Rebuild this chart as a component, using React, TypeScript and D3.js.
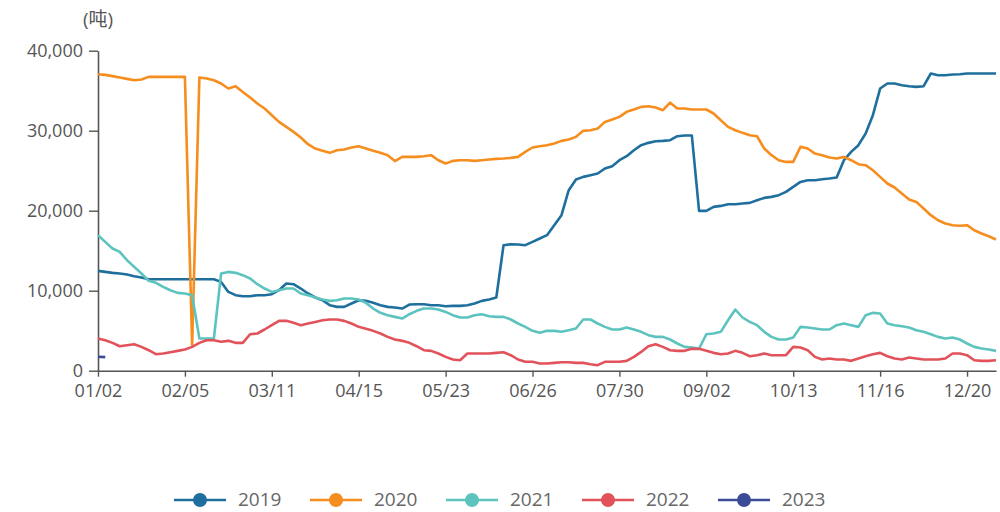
import React, { useEffect, useRef } from 'react';
import * as d3 from 'd3';

const tickLabels = ['01/02', '02/05', '03/11', '04/15', '05/23', '06/26', '07/30', '09/02', '10/13', '11/16', '12/20'];
const tickEvery = 12;
const yTicks = [0, 10000, 20000, 30000, 40000];
const years = ['2019', '2020', '2021', '2022', '2023'];
const colors = ['#1f6f9e', '#f68e1f', '#5cc3be', '#e2525b', '#3c4b98'];
const unitLabel = '(吨)';

const s2019 = [
  12480, 12350, 12230, 12150, 12020, 11810, 11650, 11440, 11440, 11440,
  11440, 11440, 11440, 11440, 11440, 11440, 11440, 11100, 9850, 9440,
  9310, 9310, 9440, 9440, 9560, 10060, 10900, 10810, 10270, 9650,
  9150, 8810, 8190, 7980, 7980, 8400, 8810, 8730, 8480, 8190,
  7980, 7900, 7770, 8270, 8310, 8310, 8190, 8190, 8060, 8100,
  8100, 8190, 8400, 8730, 8900, 9150, 15690, 15810, 15770, 15690,
  16100, 16520, 16940, 18190, 19440, 22560, 23900, 24230, 24440, 24650,
  25270, 25560, 26310, 26810, 27560, 28190, 28480, 28690, 28730, 28810,
  29310, 29400, 29400, 19980, 19980, 20480, 20600, 20810, 20810, 20900,
  20980, 21310, 21600, 21730, 21940, 22350, 22980, 23600, 23810, 23810,
  23940, 24020, 24150, 26310, 27350, 28190, 29650, 31940, 35270, 35900,
  35900, 35690, 35560, 35480, 35560, 37150, 36940, 36940, 37020, 37060,
  37150, 37150, 37150, 37150, 37150,
];

const s2020 = [
  37060, 36980, 36820, 36650, 36480, 36300, 36400, 36730, 36730, 36730,
  36730, 36730, 36730, 3200, 36650, 36520, 36300, 35900, 35280, 35560,
  34850, 34150, 33400, 32770, 31940, 31100, 30480, 29850, 29150, 28310,
  27770, 27480, 27230, 27560, 27650, 27900, 28060, 27770, 27480, 27230,
  26940, 26200, 26730, 26730, 26730, 26810, 26940, 26310, 25900, 26230,
  26310, 26310, 26230, 26310, 26400, 26480, 26520, 26600, 26730, 27350,
  27900, 28060, 28190, 28400, 28730, 28900, 29230, 29980, 30060, 30270,
  31100, 31400, 31730, 32360, 32650, 32980, 33060, 32900, 32560, 33500,
  32770, 32770, 32650, 32650, 32650, 32150, 31310, 30480, 30060, 29730,
  29440, 29310, 27770, 26940, 26310, 26100, 26100, 27980, 27770, 27140,
  26940, 26640, 26520, 26730, 26310, 25810, 25690, 25060, 24230, 23400,
  22900, 22150, 21400, 21100, 20270, 19440, 18810, 18400, 18190, 18110,
  18190, 17560, 17150, 16810, 16400,
];

const s2021 = [
  16930, 16100, 15270, 14850, 13810, 12980, 12150, 11230, 10980, 10480,
  10060, 9730, 9650, 9440, 4020, 4020, 4020, 12150, 12350, 12230,
  11940, 11520, 10810, 10270, 9850, 10060, 10270, 10270, 9650, 9440,
  9150, 8900, 8730, 8810, 9020, 9020, 8900, 8480, 7770, 7230,
  6940, 6730, 6520, 7060, 7480, 7770, 7770, 7650, 7350, 6940,
  6650, 6650, 6940, 7060, 6810, 6730, 6730, 6400, 5900, 5480,
  4980, 4730, 4980, 4980, 4860, 5060, 5270, 6400, 6400, 5900,
  5480, 5150, 5150, 5400, 5150, 4860, 4440, 4230, 4230, 3900,
  3400, 2980, 2900, 2770, 4560, 4650, 4860, 6310, 7650, 6650,
  6100, 5690, 4860, 4230, 3900, 3900, 4150, 5480, 5400, 5270,
  5150, 5150, 5690, 5900, 5690, 5480, 6940, 7230, 7150, 5900,
  5690, 5560, 5400, 5060, 4860, 4560, 4230, 4020, 4150, 3900,
  3400, 2980, 2770, 2650, 2480,
];

const s2022 = [
  4020, 3810, 3480, 3060, 3190, 3310, 2980, 2560, 2060, 2150,
  2310, 2480, 2650, 2980, 3480, 3810, 3810, 3610, 3730, 3480,
  3480, 4560, 4650, 5150, 5690, 6230, 6230, 5980, 5690, 5900,
  6100, 6310, 6400, 6400, 6230, 5900, 5480, 5230, 4980, 4650,
  4230, 3900, 3730, 3480, 3060, 2560, 2480, 2150, 1730, 1400,
  1310, 2150, 2150, 2150, 2150, 2230, 2310, 1940, 1400, 1110,
  1110, 900, 900, 980, 1060, 1060, 980, 980, 810, 690,
  1110, 1110, 1110, 1230, 1730, 2350, 3060, 3310, 2980, 2560,
  2480, 2480, 2730, 2730, 2480, 2230, 2060, 2150, 2480, 2230,
  1810, 1940, 2150, 1940, 1940, 1940, 2980, 2900, 2560, 1730,
  1400, 1520, 1400, 1400, 1230, 1520, 1810, 2060, 2230, 1810,
  1520, 1400, 1650, 1520, 1400, 1400, 1400, 1520, 2150, 2150,
  1940, 1310, 1230, 1230, 1310,
];

const s2023 = [1750, 1700];

const seriesList = [s2019, s2020, s2021, s2022, s2023];

export default function App() {
  const ref = useRef<SVGSVGElement>(null);

  useEffect(() => {
    const svg = d3.select(ref.current);
    svg.selectAll('*').remove();

    const n = s2019.length;
    const x = d3.scaleLinear().domain([0, n - 1]).range([98, 996]);
    const y = d3.scaleLinear().domain([0, 40000]).range([370.7, 50.7]);
    const font = '"Open Sans", sans-serif';

    // y axis
    const yAxis = d3.axisLeft(y)
      .tickValues(yTicks)
      .tickSize(9)
      .tickSizeOuter(0)
      .tickPadding(6)
      .tickFormat(d3.format(','));
    const gy = svg.append('g').attr('transform', `translate(${x(0)},0)`).call(yAxis as any);
    gy.selectAll('path').attr('stroke', '#555').attr('stroke-width', 1.6);
    gy.selectAll('line').attr('stroke', '#555').attr('stroke-width', 1.4);
    gy.selectAll('text').attr('fill', '#555').attr('font-size', 18).attr('font-family', font);

    // x axis
    const tickIdx = tickLabels.map((_, i) => i * tickEvery);
    const xAxis = d3.axisBottom(x)
      .tickValues(tickIdx)
      .tickSize(6)
      .tickSizeOuter(0)
      .tickPadding(8)
      .tickFormat((_d, i) => tickLabels[i]);
    const gx = svg.append('g').attr('transform', `translate(0,${y(0)})`).call(xAxis as any);
    gx.selectAll('path').attr('stroke', '#555').attr('stroke-width', 1.6);
    gx.selectAll('line').attr('stroke', '#555').attr('stroke-width', 1.4);
    gx.selectAll('text').attr('fill', '#555').attr('font-size', 18).attr('font-family', font);

    // unit label
    svg.append('text')
      .attr('x', x(0))
      .attr('y', 26)
      .attr('text-anchor', 'middle')
      .attr('font-size', 19)
      .attr('font-family', '"Open Sans", "Noto Sans CJK SC", sans-serif')
      .attr('fill', '#555')
      .text(unitLabel);

    // lines
    const line = d3.line<number>()
      .x((_d, i) => x(i))
      .y((d) => y(d));

    seriesList.forEach((s, k) => {
      svg.append('path')
        .datum(s)
        .attr('fill', 'none')
        .attr('stroke', colors[k])
        .attr('stroke-width', 2.6)
        .attr('stroke-linejoin', 'round')
        .attr('d', line as any);
    });

    // legend
    const lg = svg.append('g');
    years.forEach((yr, k) => {
      const x0 = 174 + k * 136;
      const cy = 500;
      lg.append('line')
        .attr('x1', x0).attr('x2', x0 + 52)
        .attr('y1', cy).attr('y2', cy)
        .attr('stroke', colors[k]).attr('stroke-width', 2.5);
      lg.append('circle')
        .attr('cx', x0 + 26).attr('cy', cy).attr('r', 7)
        .attr('fill', colors[k]);
      lg.append('text')
        .attr('x', x0 + 64).attr('y', 506)
        .attr('font-size', 19)
        .attr('font-family', font)
        .attr('fill', '#666')
        .text(yr);
    });
  }, []);

  return (
    <svg
      ref={ref}
      width={1000}
      height={512}
      style={{ position: 'absolute', left: 0, top: 0, background: '#fff' }}
    />
  );
}
